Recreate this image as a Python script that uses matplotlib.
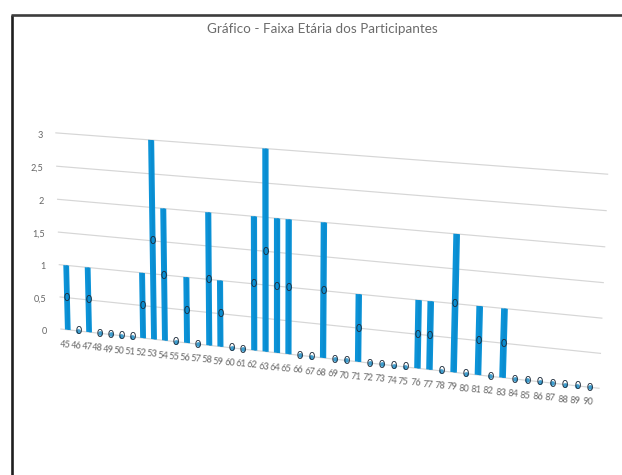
import numpy as np
import matplotlib
matplotlib.use("Agg")
import matplotlib.pyplot as plt
from matplotlib.patches import Rectangle
from matplotlib.transforms import Transform

plt.rcParams["font.family"] = ["Lato", "DejaVu Sans"]

TITLE = "Gráfico - Faixa Etária dos Participantes"
ages = list(range(45, 91))
counts = [1, 0, 1, 0, 0, 0, 0, 1, 3, 2, 0, 1, 0, 2, 1, 0, 0, 2, 3, 2, 2, 0, 0, 2,
          0, 0, 1, 0, 0, 0, 0, 1, 1, 0, 2, 0, 1, 0, 1, 0, 0, 0, 0, 0, 0, 0]
point_labels = ["0"] * len(ages)
y_ticks = [0, 0.5, 1, 1.5, 2, 2.5, 3]
y_tick_labels = ["0", "0,5", "1", "1,5", "2", "2,5", "3"]

BLUE = "#0b93d8"
BLUE_DARK = "#0a8ccf"
GRID = "#d6d6d6"
TEXT = "#666666"


class WallPerspective(Transform):
    """Homography taking (category index, value) onto the tilted chart wall."""
    input_dims = output_dims = 2

    def __init__(self, src, dst):
        super().__init__()
        rows, rhs = [], []
        for (u, v), (x, y) in zip(src, dst):
            rows.append([u, v, 1, 0, 0, 0, -u * x, -v * x])
            rows.append([0, 0, 0, u, v, 1, -u * y, -v * y])
            rhs += [x, y]
        h = np.linalg.solve(np.array(rows, float), np.array(rhs, float))
        self.h = np.append(h, 1).reshape(3, 3)

    def transform_non_affine(self, values):
        pts = np.c_[values, np.ones(len(values))] @ self.h.T
        return pts[:, :2] / pts[:, 2:]


fig = plt.figure(figsize=(6.22, 4.75), dpi=100)
ax = fig.add_axes([0, 0, 1, 1])
ax.set_xlim(0, 622)
ax.set_ylim(475, 0)
ax.axis("off")

n = len(ages)
left, right = -0.5, n - 0.5
wall = WallPerspective(
    [(left, 0), (right, 0), (right, 3), (left, 3)],
    [(62.5, 329.2), (596.5, 388), (605, 174), (57.5, 133)],
)
to_page = wall + ax.transData

# Chart frame: only the top and left edges fall inside the canvas
ax.plot([11.5, 11.5], [475, 15], color="#1f1f1f", lw=1.9, solid_capstyle="butt")
ax.plot([11, 622], [15, 15], color="#3d3d3d", lw=1.9, solid_capstyle="butt")

ax.text(322, 29, TITLE, ha="center", va="center", fontsize=9.7, color="#6b6b6b")

# Horizontal gridlines
for tick in y_ticks:
    ax.plot([left - 0.15, right + 0.2], [tick, tick], transform=to_page, color=GRID, lw=0.85, zorder=1)

# Value axis labels
for tick, label in zip(y_ticks, y_tick_labels):
    ax.annotate(label, (left, tick), xycoords=to_page, xytext=(-15, -2), textcoords="offset pixels",
                ha="right", va="center", fontsize=6.6, color=TEXT)

# Columns: a solid shaft with a slightly darker band down its middle
w = 0.27
for i, (count, label) in enumerate(zip(counts, point_labels)):
    if count > 0:
        ax.add_patch(Rectangle((i - w, 0), 2 * w, count, transform=to_page,
                               fc=BLUE, ec="none", zorder=3))
        ax.add_patch(Rectangle((i - w * 0.1, 0), w * 0.7, count, transform=to_page,
                               fc=BLUE_DARK, ec="none", zorder=3))
    else:
        ax.plot([i], [count], transform=to_page, marker="o", ms=3.4, mfc="#3f9fd0", mec="none",
                zorder=3)
    ax.annotate(label, (i, count / 2), xycoords=to_page, xytext=(0, 0), textcoords="offset pixels",
                ha="center", va="center", fontsize=7.6, color="#1d2b3a", zorder=5)

# Category labels follow the floor edge
for i, age in enumerate(ages):
    ax.annotate(str(age), (i, 0), xycoords=to_page, xytext=(-2, -15), textcoords="offset pixels",
                ha="center", va="center", rotation=-4, fontsize=6.6, color=TEXT)

fig.savefig("out.png", dpi=100)
